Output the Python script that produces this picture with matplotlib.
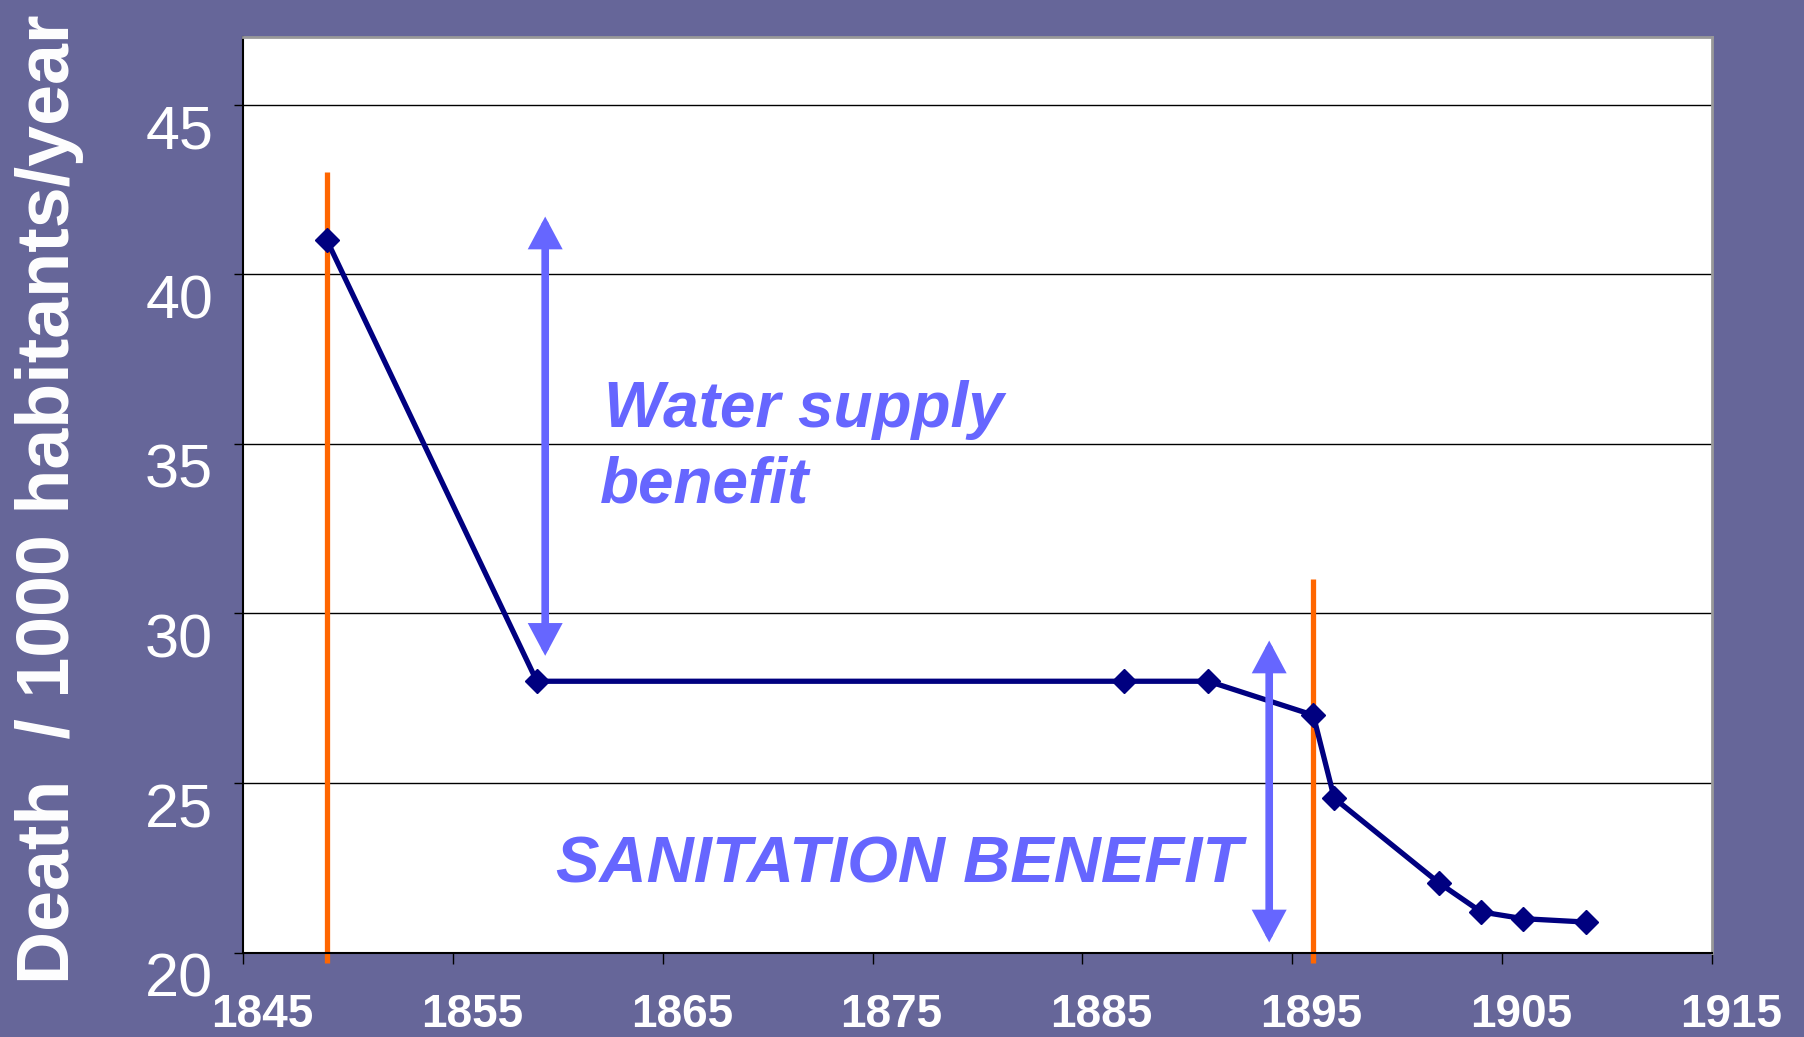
import matplotlib
matplotlib.use('Agg')
import matplotlib.pyplot as plt
from matplotlib.transforms import ScaledTranslation

plt.rcParams['font.family'] = ['Liberation Sans', 'DejaVu Sans']

# death rate per 1000 inhabitants per year
years = [1849, 1859, 1887, 1891, 1896, 1897, 1902, 1904, 1906, 1909]
deaths = [41.0, 28.0, 28.0, 28.0, 27.0, 24.55, 22.05, 21.2, 21.0, 20.9]

# orange markers: year and top of the line
event_years = [1849, 1896]
event_tops = [43.0, 31.0]

# double arrows (x, y_bottom, y_top)
arrow_x = [1859.4, 1893.9]
arrow_lo = [28.75, 20.3]
arrow_hi = [41.7, 29.2]

xticks = [1845, 1855, 1865, 1875, 1885, 1895, 1905, 1915]
yticks = [20, 25, 30, 35, 40, 45]

bg = '#666699'
blue = '#6666FF'
navy = '#000080'
orange = '#FF6600'

fig = plt.figure(figsize=(18.04, 10.37), dpi=100, facecolor=bg)
ax = fig.add_axes([243/1804, 1-952.6/1037, (1712-243)/1804, (952.6-36.8)/1037])
ax.set_facecolor('white')

ax.set_xlim(1845, 1915)
ax.set_ylim(20, 47)
ax.set_xticks(xticks)
ax.set_yticks(yticks)
ax.grid(axis='y', color='black', lw=1.0, zorder=1)
ax.set_axisbelow(True)

ax.vlines(event_years, 19.7, event_tops, colors=orange, lw=3.8, zorder=2, clip_on=False)
ax.plot(years, deaths, color=navy, lw=3.8, marker='D', ms=12.5, zorder=3)

for x, lo, hi in zip(arrow_x, arrow_lo, arrow_hi):
    ax.annotate('', xy=(x, hi), xytext=(x, lo),
                arrowprops=dict(arrowstyle='<|-|>,head_length=0.75,head_width=0.4',
                                color=blue, lw=5.5, shrinkA=0, shrinkB=0,
                                mutation_scale=20, joinstyle='miter'), zorder=4)

ax.text(1862.2, 35.5, 'Water supply', color=blue, fontsize=46,
        fontweight='bold', fontstyle='italic', va='baseline', ha='left')
ax.text(1862.0, 33.28, 'benefit', color=blue, fontsize=46,
        fontweight='bold', fontstyle='italic', va='baseline', ha='left')
ax.text(1859.9, 22.07, 'SANITATION BENEFIT', color=blue, fontsize=47,
        fontweight='bold', fontstyle='italic', va='baseline', ha='left')

for s in ['left', 'bottom']:
    ax.spines[s].set_color('black')
    ax.spines[s].set_linewidth(1.5)
for s in ['top', 'right']:
    ax.spines[s].set_color('#999999')
    ax.spines[s].set_linewidth(2)

ax.tick_params(axis='y', direction='out', length=6.5, width=1, color='black',
               pad=15, labelsize=44, labelcolor='white')
ax.tick_params(axis='x', direction='out', length=8, width=1, color='black',
               pad=21, labelsize=33, labelcolor='white')
for lab in ax.get_xticklabels():
    lab.set_fontweight('bold')
    lab.set_transform(lab.get_transform() + ScaledTranslation(0.19, 0, fig.dpi_scale_trans))
for lab in ax.get_yticklabels():
    lab.set_transform(lab.get_transform() + ScaledTranslation(0, -0.22, fig.dpi_scale_trans))

fig.text(50/1804, 1-499/1037, 'Death  / 1000 habitants/year', rotation=90,
         color='white', fontsize=53, fontweight='bold', ha='center', va='center')

fig.savefig('out.png', dpi=100, facecolor=bg)
